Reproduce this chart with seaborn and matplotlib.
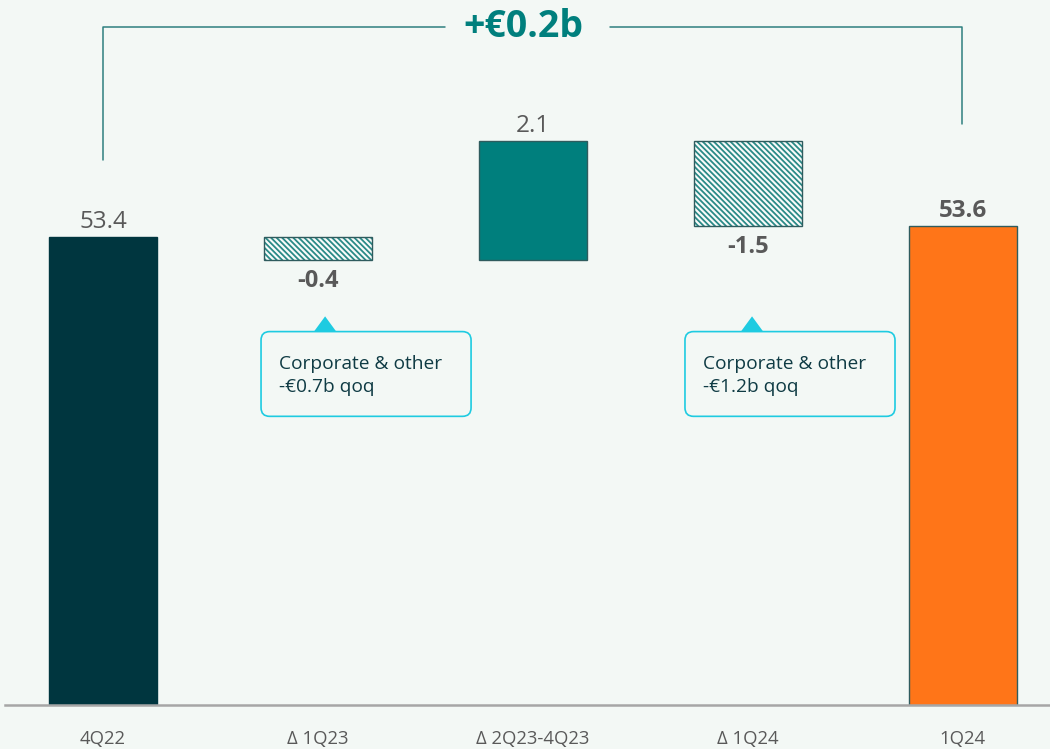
import numpy as np
import pandas as pd
import seaborn as sns
import matplotlib.pyplot as plt
from matplotlib.patches import FancyBboxPatch, Polygon

sns.set_theme(style="white")
plt.rcParams["font.family"] = ["Open Sans", "DejaVu Sans"]
plt.rcParams["hatch.linewidth"] = 1.3

# --- data -------------------------------------------------------------
categories = ["4Q22", "\u0394 1Q23", "\u0394 2Q23-4Q23", "\u0394 1Q24", "1Q24"]
values = [53.4, -0.4, 2.1, -1.5, 53.6]
kinds = ["total", "delta", "delta", "delta", "total"]
value_labels = ["53.4", "-0.4", "2.1", "-1.5", "53.6"]
bold_labels = [False, True, False, True, True]
headline = "+\u20ac0.2b"
callouts = [(1, "Corporate & other\n-\u20ac0.7b qoq"),
            (3, "Corporate & other\n-\u20ac1.2b qoq")]
# horizontal placement of each callout (box left, pointer, text) relative to its bar
callout_offsets = [(-0.265, 0.033, -0.181), (-0.293, 0.019, -0.209)]

# --- colours ----------------------------------------------------------
BG = "#F3F8F5"
DARK = "#00363F"
TEAL = "#007F7D"
ORANGE = "#FF7518"
HATCH = "#2A8A87"
EDGE = "#2F5C5E"
CYAN = "#1ECBE1"
GREY = "#595959"
TXT = "#0F3B44"

# waterfall geometry: bottoms and heights
bottoms, heights = [], []
running = 0.0
for v, k in zip(values, kinds):
    if k == "total":
        bottoms.append(0.0)
        heights.append(v)
        running = v
    else:
        bottoms.append(running)
        heights.append(v)
        running += v

df = pd.DataFrame({"category": categories, "height": heights, "bottom": bottoms})

fig = plt.figure(figsize=(10.5, 7.49), dpi=100, facecolor=BG)
ax = fig.add_axes([5 / 1050, 44 / 749, 1045 / 1050, 705 / 749])
ax.set_facecolor(BG)

sns.barplot(data=df, x="category", y="height", bottom=df["bottom"].values,
            width=0.5, ax=ax, errorbar=None, linewidth=0, color=TEAL, saturation=1)

fills = [DARK, None, TEAL, None, ORANGE]
for patch, fc, k in zip(list(ax.patches), fills, kinds):
    if fc is None:
        patch.set_facecolor("#F9FBFA")
        patch.set_hatch("\\\\\\\\\\\\")
        patch.set_edgecolor(HATCH)
        patch.set_linewidth(0)
        # outline drawn on top of the hatching
        ax.add_patch(plt.Rectangle(patch.get_xy(), patch.get_width(), patch.get_height(),
                                   fill=False, edgecolor=EDGE, linewidth=1.0, zorder=3))
    else:
        patch.set_facecolor(fc)
        patch.set_edgecolor(EDGE if fc != DARK else DARK)
        patch.set_linewidth(1.0)

ax.set_ylim(45.12, 57.60)
ax.set_xlim(-0.456, 4.405)

# value labels
for i, (b, h, lab, bold) in enumerate(zip(bottoms, heights, value_labels, bold_labels)):
    top = b + h
    if h >= 0:
        ax.annotate(lab, (i, top), xytext=(0, 11), textcoords="offset points",
                    ha="center", va="center", fontsize=17.5, color=GREY,
                    fontweight="bold" if bold else "normal")
    else:
        ax.annotate(lab, (i, top), xytext=(0, -15.5), textcoords="offset points",
                    ha="center", va="center", fontsize=17,
                    color=GREY, fontweight="bold" if bold else "normal")

# callout boxes below the negative deltas
for (idx, text), (dbox, dtri, dtxt) in zip(callouts, callout_offsets):
    x0 = idx + dbox
    x1 = x0 + 0.977
    y0, y1 = 50.23, 51.73
    ax.add_patch(FancyBboxPatch((x0, y0), x1 - x0, y1 - y0,
                                boxstyle="round,pad=0,rounding_size=0.04",
                                mutation_aspect=3.8,
                                facecolor=BG, edgecolor=CYAN, linewidth=1.2, zorder=4))
    tx = idx + dtri
    ax.add_patch(Polygon([(tx - 0.052, y1), (tx + 0.052, y1), (tx, y1 + 0.27)],
                         closed=True, facecolor=CYAN, edgecolor="none", zorder=5))
    ax.text(idx + dtxt, 50.95, text, ha="left", va="center", fontsize=13.8,
            color=TXT, linespacing=1.35, zorder=6)

# bracket across the whole bridge with the headline change
yb = 57.12
ax.plot([0, 0, 1.591], [54.77, yb, yb], color="#2E7F7F", lw=1.1, clip_on=False)
ax.plot([2.358, 3.995, 3.995], [yb, yb, 55.41], color="#2E7F7F", lw=1.1, clip_on=False)
ax.text(1.953, yb, headline, ha="center", va="center", fontsize=27,
        fontweight="bold", color=TEAL)

# axes styling
for s in ["top", "left", "right"]:
    ax.spines[s].set_visible(False)
ax.spines["bottom"].set_color("#A6A6A6")
ax.spines["bottom"].set_linewidth(1.8)
ax.set_yticks([])
ax.set_xlabel("")
ax.set_ylabel("")
ax.tick_params(axis="x", length=0, pad=18, labelsize=13.3, labelcolor=GREY)

fig.savefig("out.png", dpi=100, facecolor=BG)
